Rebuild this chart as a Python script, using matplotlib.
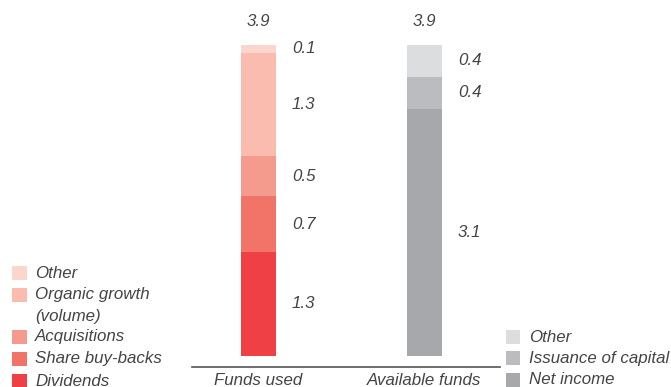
import matplotlib.pyplot as plt
from matplotlib.patches import Rectangle

# Sources and uses of funds (EUR bn)
categories = ["Funds used", "Available funds"]

usedLabels = ["Dividends", "Share buy-backs", "Acquisitions", "Organic growth\n(volume)", "Other"]
usedValues = [1.3, 0.7, 0.5, 1.3, 0.1]
usedColors = ["#ee4045", "#f27468", "#f59b8d", "#f9bcae", "#fbd6cc"]

availLabels = ["Net income", "Issuance of capital", "Other"]
availValues = [3.1, 0.4, 0.4]
availColors = ["#a7a8ab", "#bbbcbf", "#dcddde"]

textColor = "#444444"
fontProps = dict(family="Liberation Sans", style="italic", size=12.2, color=textColor)

W, H = 671, 387
fig = plt.figure(figsize=(W / 100, H / 100), dpi=100)

# axes placed in pixel terms: baseline line at y=367, bars start at y=355.7
pxPerUnit = 79.7
axLeft, axRight, axBottom = 192, 500, 367
ax = fig.add_axes([axLeft / W, (H - axBottom) / H, (axRight - axLeft) / W, axBottom / H])
ax.set_ylim(-(axBottom - 355.7) / pxPerUnit, 355.7 / pxPerUnit)
barSpacing = 166
ax.set_xlim(-(258.5 - axLeft) / barSpacing, 1 + (axRight - 424.5) / barSpacing)
barWidth = 35 / barSpacing


def drawStack(x, values, colors):
    bottom = 0
    for v, c in zip(values, colors):
        ax.bar(x, v, width=barWidth, bottom=bottom, color=c, linewidth=0)
        label = f"{v:.1f}"
        ax.text(x + barWidth / 2 + 16 / barSpacing, bottom + v / 2, label,
                ha="left", va="center", **fontProps)
        bottom += v
    ax.text(x, bottom + 0.29, f"{bottom:.1f}", ha="center", va="center", **fontProps)


drawStack(0, usedValues, usedColors)
drawStack(1, availValues, availColors)

for s in ["top", "left", "right"]:
    ax.spines[s].set_visible(False)
ax.spines["bottom"].set_color("#555555")
ax.spines["bottom"].set_linewidth(1.2)
ax.set_yticks([])
ax.set_xticks([0, 1])
ax.set_xticklabels(categories, **fontProps)
ax.tick_params(axis="x", length=0, pad=4)


def px(x, y):
    return x / W, 1 - y / H


def legendRow(x, yCenter, color, label, textX):
    size = 14.5
    fig.add_artist(Rectangle(px(x, yCenter + size / 2), size / W, size / H,
                             transform=fig.transFigure, color=color, linewidth=0))
    fig.text(*px(textX, yCenter), label, ha="left", va="center", **fontProps)


# left legend (top to bottom: Other ... Dividends)
leftRows = [273, 295, 337, 359, 381]
for y, lab, col in zip(leftRows, usedLabels[::-1], usedColors[::-1]):
    legendRow(12, y, col, lab.split("\n")[0], 35)
fig.text(*px(35, 316), "(volume)", ha="left", va="center", **fontProps)

rightRows = [337, 358, 380]
for y, lab, col in zip(rightRows, availLabels[::-1], availColors[::-1]):
    legendRow(506, y, col, lab, 529)

fig.savefig("out.png", dpi=100)
